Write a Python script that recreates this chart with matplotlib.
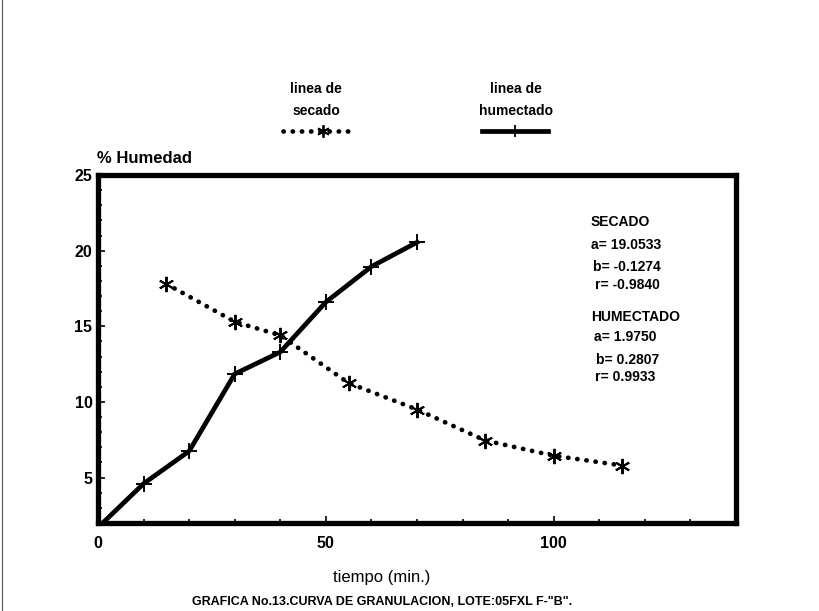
import matplotlib
matplotlib.use('Agg')
import numpy as np
from matplotlib import pyplot as plt
from matplotlib.lines import Line2D
from matplotlib.ticker import MultipleLocator

plt.rcParams['font.family'] = ['Liberation Sans', 'DejaVu Sans']

# datos
t_secado = [15, 30, 40, 55, 70, 85, 100, 115]
h_secado = [17.8, 15.3, 14.4, 11.25, 9.5, 7.45, 6.45, 5.8]
t_humectado = [0, 10, 20, 30, 40, 50, 60, 70]
h_humectado = [1.7, 4.6, 6.75, 11.85, 13.3, 16.6, 18.95, 20.55]

texto_secado = ['SECADO', 'a= 19.0533', 'b= -0.1274', 'r= -0.9840']
texto_humectado = ['HUMECTADO', 'a= 1.9750', 'b= 0.2807', 'r= 0.9933']

W, H = 820, 611
fig = plt.figure(figsize=(8.2, 6.11), dpi=100)
ax = fig.add_axes([98 / W, 1 - 523 / H, (736 - 98) / W, (523 - 175) / H])

asterisco = (6, 2, 0)
ax.plot(t_humectado, h_humectado, color='black', lw=3.4, solid_joinstyle='round',
        marker='+', ms=11, mew=1.4, clip_on=True)
ax.plot(t_secado, h_secado, color='black', lw=3.4, linestyle=(0, (0.05, 1.9)),
        dash_capstyle='round', marker=asterisco, ms=11, mew=1.4)

ax.set_xlim(0, 140)
ax.set_ylim(2, 25)
ax.xaxis.set_major_locator(MultipleLocator(50))
ax.xaxis.set_minor_locator(MultipleLocator(10))
ax.yaxis.set_major_locator(MultipleLocator(5))
ax.yaxis.set_minor_locator(MultipleLocator(1))
ax.tick_params(which='both', direction='in', top=False, right=False, width=1.2)
ax.tick_params(which='major', length=5)
ax.tick_params(which='minor', length=3)
ax.tick_params(axis='x', pad=9)
ax.tick_params(axis='y', pad=4)
for lab in ax.get_xticklabels() + ax.get_yticklabels():
    lab.set_fontsize(11.5)
    lab.set_fontweight('bold')
for s in ax.spines.values():
    s.set_linewidth(3.8)

# leyenda dibujada a mano
fig.text(316 / W, 1 - 89 / H, 'linea de', ha='center', va='center', fontsize=10, fontweight='bold')
fig.text(316 / W, 1 - 111 / H, 'secado', ha='center', va='center', fontsize=10, fontweight='bold')
fig.text(516 / W, 1 - 89 / H, 'linea de', ha='center', va='center', fontsize=10, fontweight='bold')
fig.text(516 / W, 1 - 111 / H, 'humectado', ha='center', va='center', fontsize=10, fontweight='bold')
fig.add_artist(Line2D([283 / W, 348 / W], [1 - 131 / H] * 2, color='black', lw=3.4,
                      linestyle=(0, (0.05, 1.9)), dash_capstyle='round'))
fig.add_artist(Line2D([323 / W], [1 - 131 / H], color='black', marker=asterisco, ms=9, mew=1.3))
fig.add_artist(Line2D([482 / W, 548 / W], [1 - 131 / H] * 2, color='black', lw=3.4))
fig.add_artist(Line2D([515 / W], [1 - 131 / H], color='black', marker='+', ms=9, mew=1.3))

fig.text(97 / W, 1 - 159 / H, '% Humedad', ha='left', va='center', fontsize=12, fontweight='bold')

# coeficientes de regresion
xs = [591, 591, 593, 595]
ys = [222, 245, 267, 285]
for txt, x, y in zip(texto_secado, xs, ys):
    fig.text(x / W, 1 - y / H, txt, ha='left', va='center', fontsize=10, fontweight='bold')
xs = [591, 594, 596, 595]
ys = [317, 337, 360, 377]
for txt, x, y in zip(texto_humectado, xs, ys):
    fig.text(x / W, 1 - y / H, txt, ha='left', va='center', fontsize=10, fontweight='bold')

fig.text(382 / W, 1 - 582 / H, 'tiempo (min.)', ha='center', va='baseline', fontsize=12)
fig.text(382 / W, 1 - 605 / H, 'GRAFICA No.13.CURVA DE GRANULACION, LOTE:05FXL F-"B".',
         ha='center', va='baseline', fontsize=9, fontweight='bold')

# borde de la hoja
fig.add_artist(Line2D([2 / W, 2 / W], [0, 1], color='#555555', lw=0.8))

fig.savefig('out.png', dpi=100)
